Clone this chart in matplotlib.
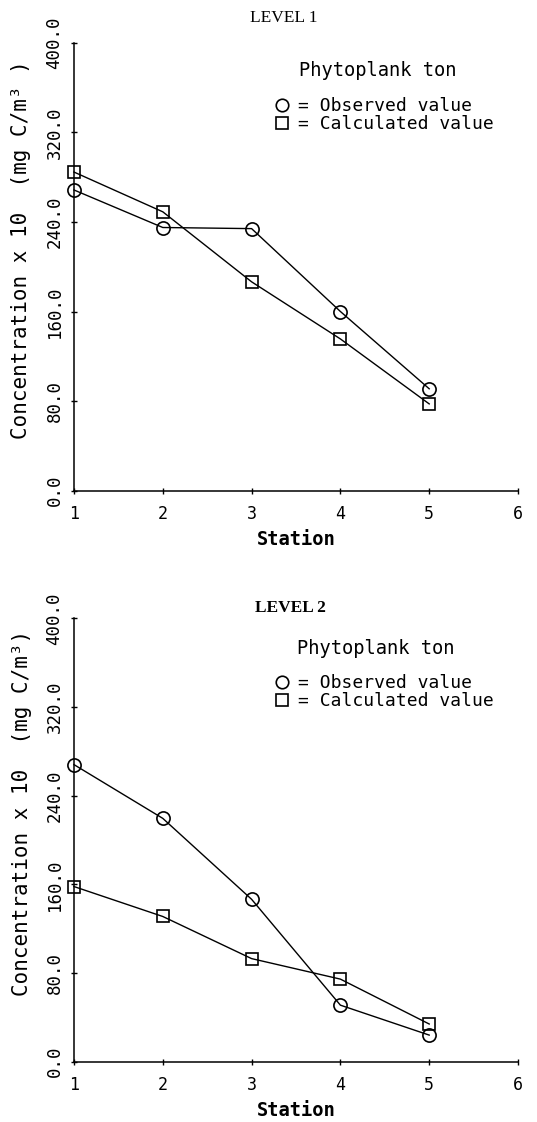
import matplotlib
matplotlib.use("Agg")
import matplotlib.pyplot as plt
from matplotlib.lines import Line2D

# data (concentration x 10, mg C/m3)
stations = [1, 2, 3, 4, 5]
obs_level1 = [268.5, 235.0, 234.0, 160.0, 91.0]
calc_level1 = [284.5, 249.0, 186.5, 135.5, 77.5]
obs_level2 = [268.0, 219.5, 146.5, 51.0, 24.0]
calc_level2 = [158.0, 131.0, 93.0, 74.5, 34.0]

xticks = [1, 2, 3, 4, 5, 6]
yticks = [0, 80, 160, 240, 320, 400]

MONO = "DejaVu Sans Mono"
W, H = 537, 1122

fig = plt.figure(figsize=(W / 100, H / 100), dpi=100)
fig.patch.set_facecolor("white")


def fx(px):
    return px / W


def fy(py):
    return 1 - py / H


def panel(top_px, bottom_px, obs, calc, title, title_xy, title_weight,
          ylab, ylab_xy, phyto_xy, leg_xy, station_y):
    ax = fig.add_axes([fx(74), fy(bottom_px), fx(518) - fx(74),
                       fy(top_px) - fy(bottom_px)])
    ax.plot(stations, obs, color="black", lw=1.0, marker="o", ms=9.5,
            mfc="none", mec="black", mew=1.2, clip_on=False, zorder=3)
    ax.plot(stations, calc, color="black", lw=1.0, marker="s", ms=9,
            mfc="none", mec="black", mew=1.2, clip_on=False, zorder=3)
    ax.set_xlim(1, 6)
    ax.set_ylim(0, 400)
    ax.set_xticks(xticks)
    ax.set_yticks(yticks)
    ax.set_xticklabels([str(t) for t in xticks], family=MONO, fontsize=12)
    ax.set_yticklabels([f"{t:.1f}" for t in yticks], family=MONO,
                       fontsize=12.5, rotation=90, va="center")
    ax.tick_params(direction="inout", length=5, width=1, pad=8)
    ax.tick_params(axis="y", pad=5)
    for s in ("top", "right"):
        ax.spines[s].set_visible(False)
    for s in ("left", "bottom"):
        ax.spines[s].set_linewidth(1.1)
    ax.patch.set_visible(False)

    fig.text(fx(title_xy[0]), fy(title_xy[1]), title, ha="center",
             va="center", family="Liberation Serif", fontsize=12.5,
             fontweight=title_weight)
    fig.text(fx(ylab_xy[0]), fy(ylab_xy[1]), ylab, rotation=90,
             ha="center", va="center", family=MONO, fontsize=15)
    fig.text(fx(phyto_xy[0]), fy(phyto_xy[1]), "Phytoplank ton",
             ha="center", va="center", family=MONO, fontsize=13.5)
    fig.text(fx(296), fy(station_y), "Station", ha="center", va="center",
             family=MONO, fontsize=13.5, fontweight="bold")

    handles = [
        Line2D([], [], ls="none", marker="o", ms=9, mfc="none",
               mec="black", mew=1.2),
        Line2D([], [], ls="none", marker="s", ms=8.5, mfc="none",
               mec="black", mew=1.2),
    ]
    ax.legend(handles, ["= Observed value", "= Calculated value"],
              loc="upper left", bbox_to_anchor=(fx(leg_xy[0]), fy(leg_xy[1])),
              bbox_transform=fig.transFigure, frameon=False, borderpad=0,
              borderaxespad=0, handlelength=0.8, handletextpad=0.5,
              labelspacing=0.0, prop={"family": MONO, "size": 13})
    return ax


panel(42.7, 490.7, obs_level1, calc_level1, "LEVEL 1", (284, 18), "normal",
      "Concentration x 10  (mg C/m³ )", (21, 250), (378, 71), (275, 97), 539)
panel(618.3, 1061.7, obs_level2, calc_level2, "LEVEL 2", (290, 608), "bold",
      "Concentration x 10  (mg C/m³)", (22, 813), (376, 648), (275, 674),
      1111)

fig.savefig("out.png", dpi=100)
